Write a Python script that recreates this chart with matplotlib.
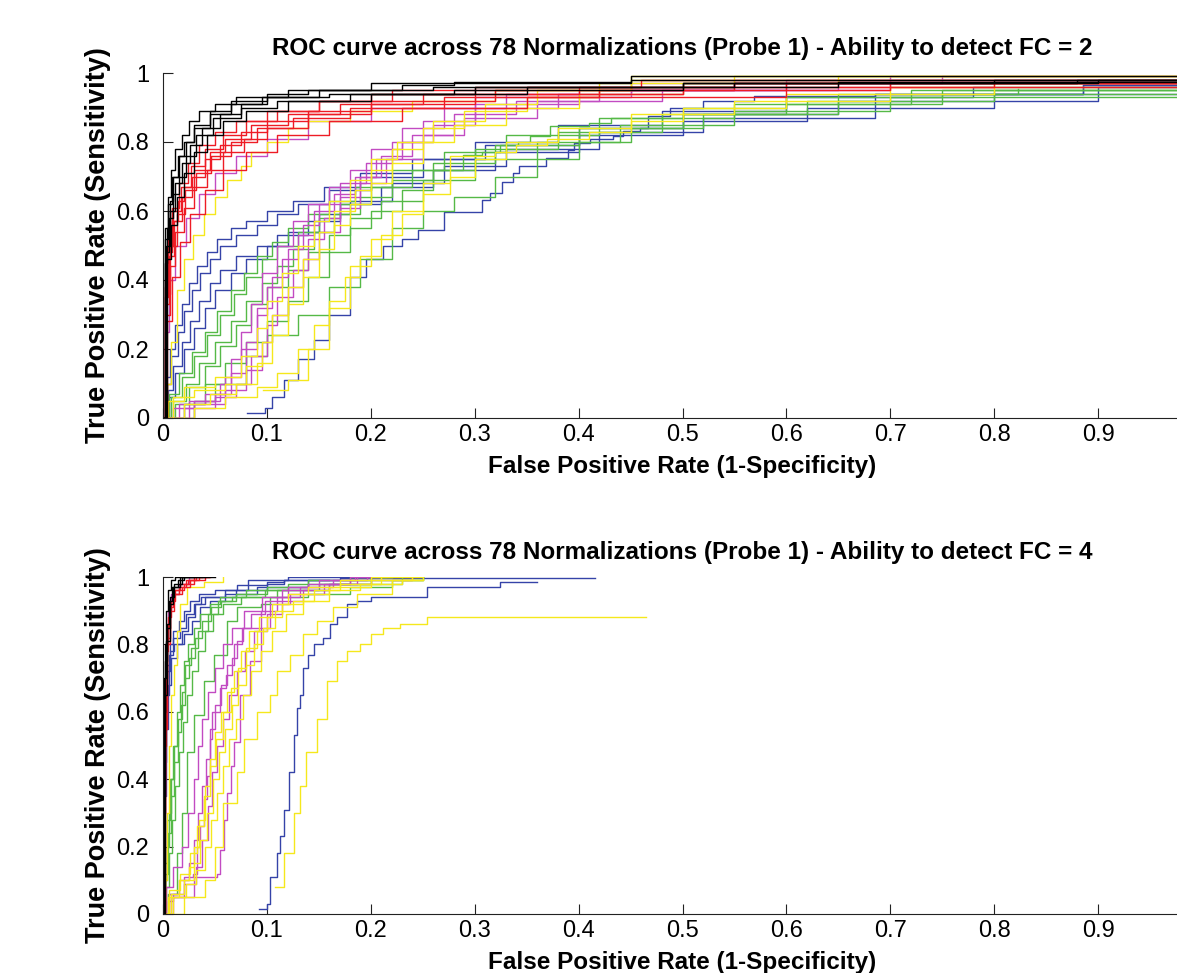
import matplotlib
matplotlib.use("Agg")
import matplotlib.pyplot as plt
from matplotlib.ticker import FuncFormatter

plt.rcParams['font.family'] = ['Liberation Sans', 'DejaVu Sans']

# ---- ROC curves, FC = 2 (each curve: list of (FPR, TPR) step corners) ----
top_black = [
    [(0, 0), (0.002, 0.45), (0.004, 0.55), (0.007, 0.63), (0.01, 0.7), (0.015, 0.76), (0.022, 0.8), (0.03, 0.85), (0.045, 0.89), (0.065, 0.92), (0.1, 0.94), (0.14, 0.95), (0.23, 0.965), (0.28, 0.975), (0.45, 0.98), (0.98, 0.99)],
    [(0, 0), (0.003, 0.48), (0.006, 0.58), (0.01, 0.65), (0.015, 0.7), (0.022, 0.76), (0.032, 0.82), (0.048, 0.87), (0.075, 0.9), (0.11, 0.92), (0.18, 0.94), (0.3, 0.96), (0.55, 0.97), (0.9, 0.98), (0.98, 0.98)],
    [(0, 0), (0.002, 0.52), (0.005, 0.62), (0.009, 0.7), (0.014, 0.76), (0.02, 0.8), (0.03, 0.84), (0.045, 0.88), (0.065, 0.91), (0.095, 0.93), (0.15, 0.95), (0.26, 0.96), (0.5, 0.97), (0.8, 0.98), (0.98, 0.99)],
    [(0, 0), (0.004, 0.46), (0.008, 0.56), (0.013, 0.64), (0.02, 0.71), (0.03, 0.77), (0.042, 0.82), (0.058, 0.86), (0.08, 0.89), (0.12, 0.92), (0.2, 0.94), (0.35, 0.96), (0.65, 0.975), (0.98, 0.985)],
    [(0, 0), (0.003, 0.5), (0.007, 0.6), (0.012, 0.68), (0.018, 0.74), (0.026, 0.79), (0.038, 0.84), (0.055, 0.88), (0.075, 0.91), (0.1, 0.93), (0.16, 0.94), (0.28, 0.95), (0.5, 0.97), (0.88, 0.98), (0.98, 0.98)],
    [(0, 0), (0.002, 0.55), (0.005, 0.64), (0.008, 0.72), (0.012, 0.78), (0.018, 0.82), (0.025, 0.86), (0.035, 0.89), (0.05, 0.91), (0.07, 0.93), (0.12, 0.95), (0.2, 0.97), (0.45, 0.99), (0.98, 0.99)],
]
top_red = [
    [(0, 0), (0.002, 0.35), (0.005, 0.48), (0.009, 0.57), (0.014, 0.63), (0.02, 0.67), (0.03, 0.72), (0.045, 0.77), (0.06, 0.81), (0.085, 0.85), (0.12, 0.88), (0.17, 0.91), (0.25, 0.94), (0.4, 0.96), (0.6, 0.97), (0.98, 0.98)],
    [(0, 0), (0.003, 0.3), (0.007, 0.44), (0.012, 0.54), (0.02, 0.61), (0.03, 0.67), (0.042, 0.72), (0.058, 0.77), (0.078, 0.81), (0.1, 0.84), (0.14, 0.88), (0.2, 0.91), (0.3, 0.94), (0.5, 0.96), (0.8, 0.97), (0.98, 0.99)],
    [(0, 0), (0.002, 0.4), (0.005, 0.52), (0.009, 0.61), (0.015, 0.68), (0.024, 0.74), (0.035, 0.79), (0.05, 0.83), (0.07, 0.86), (0.1, 0.89), (0.15, 0.92), (0.22, 0.95), (0.35, 0.96), (0.55, 0.97), (0.98, 0.98)],
    [(0, 0), (0.004, 0.28), (0.009, 0.41), (0.016, 0.51), (0.026, 0.59), (0.04, 0.66), (0.058, 0.72), (0.08, 0.77), (0.11, 0.82), (0.16, 0.86), (0.23, 0.9), (0.35, 0.93), (0.6, 0.96), (0.98, 0.98)],
    [(0, 0), (0.003, 0.33), (0.006, 0.47), (0.011, 0.57), (0.018, 0.64), (0.028, 0.7), (0.04, 0.75), (0.055, 0.79), (0.075, 0.83), (0.1, 0.86), (0.14, 0.89), (0.2, 0.92), (0.32, 0.95), (0.55, 0.97), (0.98, 0.99)],
    [(0, 0), (0.002, 0.38), (0.005, 0.5), (0.01, 0.6), (0.017, 0.67), (0.027, 0.73), (0.04, 0.78), (0.058, 0.82), (0.08, 0.86), (0.11, 0.89), (0.15, 0.92), (0.2, 0.94), (0.3, 0.96), (0.46, 0.98), (0.98, 0.99)],
    [(0, 0), (0.003, 0.36), (0.007, 0.5), (0.013, 0.59), (0.021, 0.66), (0.032, 0.71), (0.046, 0.76), (0.065, 0.8), (0.09, 0.84), (0.125, 0.87), (0.18, 0.9), (0.27, 0.93), (0.42, 0.95), (0.7, 0.97), (0.98, 0.98)],
]
top_magenta = [
    [(0, 0), (0.002, 0.25), (0.006, 0.4), (0.012, 0.5), (0.022, 0.58), (0.035, 0.65), (0.05, 0.71), (0.07, 0.76), (0.1, 0.81), (0.14, 0.86), (0.2, 0.9), (0.3, 0.93), (0.45, 0.95), (0.7, 0.98), (0.98, 0.99)],
    [(0, 0), (0.01, 0.03), (0.03, 0.05), (0.055, 0.1), (0.065, 0.17), (0.075, 0.25), (0.085, 0.33), (0.095, 0.42), (0.11, 0.5), (0.125, 0.57), (0.14, 0.62), (0.16, 0.67), (0.18, 0.72), (0.2, 0.78), (0.23, 0.84), (0.27, 0.9), (0.33, 0.94), (0.45, 0.97), (0.7, 0.99), (0.98, 0.99)],
    [(0, 0), (0.02, 0.03), (0.05, 0.06), (0.07, 0.1), (0.085, 0.18), (0.1, 0.27), (0.11, 0.35), (0.125, 0.43), (0.14, 0.52), (0.155, 0.58), (0.17, 0.64), (0.19, 0.7), (0.21, 0.76), (0.24, 0.82), (0.28, 0.88), (0.34, 0.92), (0.42, 0.95), (0.6, 0.98), (0.98, 0.99)],
    [(0, 0), (0.015, 0.04), (0.04, 0.07), (0.06, 0.12), (0.075, 0.2), (0.09, 0.3), (0.1, 0.38), (0.115, 0.46), (0.13, 0.53), (0.145, 0.6), (0.165, 0.65), (0.185, 0.7), (0.205, 0.75), (0.23, 0.8), (0.26, 0.85), (0.3, 0.9), (0.38, 0.94), (0.5, 0.97), (0.75, 0.99), (0.98, 0.99)],
    [(0, 0), (0.03, 0.04), (0.06, 0.08), (0.08, 0.14), (0.095, 0.22), (0.105, 0.3), (0.12, 0.38), (0.135, 0.46), (0.15, 0.54), (0.17, 0.61), (0.19, 0.68), (0.215, 0.75), (0.25, 0.82), (0.29, 0.87), (0.36, 0.92), (0.48, 0.95), (0.65, 0.98), (0.98, 0.99)],
    [(0, 0), (0.025, 0.05), (0.05, 0.07), (0.065, 0.13), (0.08, 0.22), (0.09, 0.32), (0.105, 0.41), (0.12, 0.49), (0.135, 0.56), (0.15, 0.62), (0.17, 0.68), (0.195, 0.74), (0.22, 0.8), (0.25, 0.86), (0.3, 0.91), (0.4, 0.95), (0.55, 0.98), (0.98, 1.0)],
]
top_yellow = [
    [(0, 0), (0.004, 0.1), (0.008, 0.22), (0.013, 0.37), (0.02, 0.46), (0.029, 0.53), (0.039, 0.59), (0.05, 0.64), (0.062, 0.69), (0.075, 0.73), (0.085, 0.77), (0.1, 0.8), (0.12, 0.84), (0.14, 0.86), (0.18, 0.89), (0.24, 0.92), (0.32, 0.95), (0.45, 0.99), (0.98, 1.0)],
    [(0, 0), (0.01, 0.06), (0.03, 0.08), (0.06, 0.1), (0.08, 0.15), (0.095, 0.22), (0.105, 0.3), (0.12, 0.38), (0.135, 0.46), (0.15, 0.54), (0.165, 0.6), (0.185, 0.66), (0.2, 0.72), (0.22, 0.78), (0.25, 0.84), (0.29, 0.89), (0.35, 0.93), (0.42, 0.97), (0.55, 0.99), (0.98, 1.0)],
    [(0, 0), (0.005, 0.05), (0.02, 0.09), (0.05, 0.12), (0.075, 0.18), (0.09, 0.26), (0.1, 0.34), (0.115, 0.42), (0.13, 0.5), (0.145, 0.57), (0.16, 0.63), (0.18, 0.69), (0.2, 0.75), (0.225, 0.8), (0.26, 0.86), (0.31, 0.91), (0.36, 0.95), (0.45, 0.98), (0.98, 0.99)],
    [(0, 0), (0.02, 0.04), (0.045, 0.07), (0.07, 0.1), (0.09, 0.16), (0.105, 0.24), (0.12, 0.33), (0.135, 0.41), (0.15, 0.49), (0.165, 0.56), (0.18, 0.62), (0.2, 0.68), (0.22, 0.74), (0.25, 0.8), (0.28, 0.85), (0.33, 0.9), (0.4, 0.94), (0.5, 0.97), (0.65, 0.99), (0.98, 0.99)],
    [(0, 0), (0.03, 0.03), (0.06, 0.06), (0.09, 0.09), (0.11, 0.13), (0.13, 0.2), (0.145, 0.27), (0.16, 0.34), (0.175, 0.41), (0.19, 0.47), (0.21, 0.53), (0.23, 0.59), (0.25, 0.65), (0.276, 0.7), (0.3, 0.75), (0.33, 0.8), (0.38, 0.84), (0.45, 0.88), (0.55, 0.92), (0.7, 0.96), (0.98, 0.98)],
    [(0.096, 0.08), (0.12, 0.11), (0.14, 0.2), (0.16, 0.32), (0.18, 0.44), (0.2, 0.52), (0.22, 0.6), (0.25, 0.68), (0.276, 0.76), (0.32, 0.77), (0.34, 0.79), (0.37, 0.81), (0.41, 0.83), (0.45, 0.86), (0.5, 0.9), (0.6, 0.94), (0.8, 0.97), (0.98, 0.99)],
]
top_green = [
    [(0, 0), (0.008, 0.06), (0.018, 0.12), (0.03, 0.18), (0.042, 0.24), (0.055, 0.3), (0.068, 0.36), (0.08, 0.41), (0.095, 0.46), (0.11, 0.5), (0.13, 0.54), (0.15, 0.58), (0.17, 0.62), (0.2, 0.67), (0.24, 0.72), (0.3, 0.78), (0.38, 0.83), (0.48, 0.88), (0.62, 0.92), (0.8, 0.95), (0.98, 0.97)],
    [(0, 0), (0.01, 0.05), (0.022, 0.1), (0.035, 0.16), (0.05, 0.22), (0.065, 0.28), (0.08, 0.34), (0.095, 0.39), (0.11, 0.44), (0.125, 0.49), (0.145, 0.54), (0.165, 0.59), (0.19, 0.64), (0.22, 0.69), (0.26, 0.74), (0.32, 0.79), (0.4, 0.84), (0.5, 0.88), (0.65, 0.94), (0.823, 0.953)],
    [(0, 0), (0.012, 0.04), (0.025, 0.09), (0.04, 0.15), (0.055, 0.21), (0.07, 0.27), (0.085, 0.33), (0.1, 0.38), (0.12, 0.43), (0.14, 0.48), (0.16, 0.53), (0.18, 0.58), (0.21, 0.63), (0.25, 0.69), (0.3, 0.75), (0.36, 0.8), (0.44, 0.85), (0.55, 0.89), (0.7, 0.93), (0.98, 0.97)],
    [(0, 0), (0.02, 0.04), (0.04, 0.1), (0.06, 0.16), (0.08, 0.22), (0.1, 0.28), (0.12, 0.34), (0.14, 0.41), (0.16, 0.48), (0.18, 0.55), (0.2, 0.6), (0.23, 0.66), (0.26, 0.72), (0.289, 0.762), (0.307, 0.772), (0.324, 0.79), (0.342, 0.8), (0.353, 0.817), (0.372, 0.846), (0.41, 0.856), (0.431, 0.87), (0.5, 0.9), (0.6, 0.93), (0.75, 0.95), (0.98, 0.975)],
    [(0, 0), (0.006, 0.07), (0.015, 0.13), (0.028, 0.19), (0.04, 0.25), (0.052, 0.31), (0.065, 0.37), (0.078, 0.42), (0.09, 0.47), (0.105, 0.51), (0.12, 0.55), (0.14, 0.59), (0.16, 0.63), (0.185, 0.67), (0.22, 0.72), (0.27, 0.77), (0.33, 0.82), (0.42, 0.87), (0.55, 0.91), (0.72, 0.95), (0.98, 0.98)],
    [(0, 0), (0.03, 0.05), (0.05, 0.1), (0.08, 0.18), (0.1, 0.24), (0.13, 0.3), (0.16, 0.38), (0.19, 0.46), (0.22, 0.55), (0.25, 0.6), (0.28, 0.64), (0.32, 0.7), (0.36, 0.75), (0.4, 0.8), (0.45, 0.84), (0.52, 0.88), (0.6, 0.91), (0.75, 0.94), (0.98, 0.97)],
]
top_blue = [
    [(0, 0), (0.004, 0.1), (0.008, 0.18), (0.014, 0.25), (0.02, 0.31), (0.028, 0.37), (0.036, 0.42), (0.045, 0.46), (0.055, 0.5), (0.07, 0.53), (0.09, 0.56), (0.11, 0.59), (0.13, 0.62), (0.16, 0.66), (0.2, 0.7), (0.25, 0.75), (0.31, 0.79), (0.4, 0.84), (0.5, 0.88), (0.65, 0.92), (0.9, 0.96), (0.98, 0.98)],
    [(0, 0), (0.005, 0.08), (0.01, 0.15), (0.018, 0.22), (0.026, 0.28), (0.035, 0.34), (0.045, 0.39), (0.055, 0.43), (0.07, 0.47), (0.09, 0.5), (0.11, 0.53), (0.14, 0.57), (0.17, 0.62), (0.21, 0.67), (0.26, 0.72), (0.32, 0.77), (0.4, 0.82), (0.5, 0.86), (0.62, 0.9), (0.8, 0.94), (0.98, 0.97)],
    [(0, 0), (0.003, 0.12), (0.007, 0.2), (0.012, 0.27), (0.018, 0.33), (0.025, 0.39), (0.033, 0.44), (0.042, 0.48), (0.052, 0.52), (0.065, 0.55), (0.08, 0.57), (0.1, 0.6), (0.125, 0.63), (0.155, 0.67), (0.19, 0.71), (0.24, 0.75), (0.3, 0.8), (0.38, 0.85), (0.48, 0.89), (0.6, 0.93), (0.78, 0.96), (0.98, 0.99)],
    [(0, 0), (0.006, 0.06), (0.012, 0.13), (0.02, 0.2), (0.03, 0.26), (0.04, 0.32), (0.05, 0.37), (0.065, 0.42), (0.08, 0.46), (0.1, 0.5), (0.12, 0.54), (0.15, 0.59), (0.18, 0.63), (0.22, 0.68), (0.27, 0.73), (0.33, 0.78), (0.42, 0.83), (0.52, 0.87), (0.685, 0.94), (0.885, 0.965), (0.98, 0.965)],
    [(0.081, 0.014), (0.098, 0.03), (0.105, 0.06), (0.116, 0.11), (0.13, 0.17), (0.145, 0.226), (0.16, 0.3), (0.18, 0.41), (0.195, 0.46), (0.212, 0.5), (0.23, 0.52), (0.245, 0.545), (0.27, 0.598), (0.307, 0.632), (0.315, 0.653), (0.326, 0.685), (0.337, 0.71), (0.343, 0.73), (0.369, 0.753), (0.39, 0.777), (0.396, 0.796), (0.411, 0.808), (0.433, 0.818), (0.443, 0.832), (0.459, 0.842), (0.467, 0.874), (0.488, 0.898), (0.52, 0.918), (0.569, 0.932), (0.685, 0.94), (0.885, 0.965), (0.98, 0.98)],
]

# ---- ROC curves, FC = 4 ----
bot_black = [
    [(0, 0), (0.001, 0.6), (0.002, 0.8), (0.003, 0.9), (0.005, 0.96), (0.008, 0.99), (0.012, 1.0), (0.02, 1.0)],
    [(0, 0), (0.001, 0.5), (0.002, 0.75), (0.004, 0.86), (0.006, 0.93), (0.009, 0.97), (0.014, 0.99), (0.02, 1.0), (0.04, 1.0)],
    [(0, 0), (0.001, 0.7), (0.003, 0.81), (0.006, 0.81), (0.007, 0.92), (0.01, 0.97), (0.016, 1.0), (0.03, 1.0)],
    [(0, 0), (0.002, 0.65), (0.004, 0.85), (0.007, 0.94), (0.011, 0.98), (0.018, 1.0), (0.05, 1.0)],
]
bot_red = [
    [(0, 0), (0.001, 0.4), (0.002, 0.7), (0.004, 0.85), (0.006, 0.92), (0.01, 0.96), (0.016, 0.98), (0.024, 0.99), (0.035, 1.0), (0.045, 1.0)],
    [(0, 0), (0.001, 0.5), (0.003, 0.78), (0.005, 0.88), (0.008, 0.93), (0.012, 0.96), (0.02, 0.98), (0.03, 0.99), (0.04, 1.0), (0.044, 1.0)],
    [(0, 0), (0.001, 0.3), (0.002, 0.6), (0.004, 0.8), (0.007, 0.9), (0.011, 0.95), (0.018, 0.97), (0.026, 0.99), (0.032, 1.0)],
    [(0, 0), (0.002, 0.55), (0.004, 0.82), (0.007, 0.91), (0.01, 0.95), (0.015, 0.97), (0.022, 0.99), (0.03, 1.0), (0.038, 1.0)],
]
bot_magenta = [
    [(0, 0), (0.005, 0.04), (0.01, 0.06), (0.02, 0.11), (0.029, 0.12), (0.033, 0.2), (0.036, 0.26), (0.039, 0.34), (0.042, 0.41), (0.045, 0.52), (0.047, 0.6), (0.055, 0.67), (0.061, 0.71), (0.066, 0.76), (0.071, 0.81), (0.077, 0.85), (0.094, 0.9), (0.11, 0.94), (0.132, 0.97), (0.164, 0.99), (0.196, 1.0), (0.21, 1.0)],
    [(0, 0), (0.01, 0.05), (0.03, 0.11), (0.052, 0.12), (0.055, 0.19), (0.059, 0.28), (0.062, 0.36), (0.065, 0.44), (0.068, 0.51), (0.074, 0.65), (0.084, 0.75), (0.094, 0.85), (0.103, 0.92), (0.122, 0.95), (0.155, 0.98), (0.187, 1.0), (0.2, 1.0)],
    [(0, 0), (0.006, 0.06), (0.015, 0.1), (0.025, 0.15), (0.03, 0.22), (0.034, 0.3), (0.038, 0.38), (0.041, 0.46), (0.045, 0.55), (0.05, 0.62), (0.056, 0.68), (0.062, 0.74), (0.068, 0.8), (0.076, 0.85), (0.085, 0.89), (0.098, 0.93), (0.115, 0.96), (0.14, 0.98), (0.18, 1.0), (0.2, 1.0)],
    [(0, 0), (0.008, 0.05), (0.02, 0.09), (0.032, 0.14), (0.038, 0.22), (0.043, 0.32), (0.047, 0.42), (0.052, 0.5), (0.058, 0.58), (0.064, 0.65), (0.071, 0.72), (0.079, 0.78), (0.088, 0.84), (0.1, 0.89), (0.115, 0.93), (0.135, 0.96), (0.16, 0.98), (0.2, 0.99), (0.24, 1.0)],
    [(0, 0), (0.003, 0.08), (0.01, 0.14), (0.018, 0.2), (0.024, 0.3), (0.03, 0.4), (0.034, 0.5), (0.038, 0.58), (0.043, 0.66), (0.05, 0.73), (0.058, 0.8), (0.066, 0.85), (0.078, 0.9), (0.095, 0.94), (0.12, 0.97), (0.15, 0.99), (0.185, 1.0)],
    [(0, 0), (0.001, 0.3), (0.002, 0.6), (0.003, 0.8), (0.005, 0.9), (0.008, 0.95), (0.015, 0.98), (0.025, 1.0), (0.03, 1.0)],
]
bot_yellow = [
    [(0, 0), (0.002, 0.1), (0.004, 0.3), (0.006, 0.5), (0.008, 0.65), (0.011, 0.74), (0.013, 0.84), (0.016, 0.92), (0.023, 0.97), (0.039, 0.985), (0.058, 1.0)],
    [(0, 0), (0.005, 0.05), (0.015, 0.1), (0.025, 0.14), (0.03, 0.2), (0.035, 0.28), (0.04, 0.38), (0.045, 0.46), (0.05, 0.54), (0.056, 0.6), (0.062, 0.66), (0.068, 0.72), (0.075, 0.78), (0.083, 0.84), (0.092, 0.88), (0.105, 0.92), (0.12, 0.95), (0.14, 0.97), (0.17, 0.99), (0.2, 1.0), (0.22, 1.0)],
    [(0, 0), (0.008, 0.06), (0.02, 0.1), (0.03, 0.15), (0.036, 0.22), (0.042, 0.3), (0.048, 0.4), (0.054, 0.48), (0.06, 0.55), (0.066, 0.62), (0.072, 0.68), (0.08, 0.74), (0.088, 0.8), (0.096, 0.85), (0.108, 0.9), (0.125, 0.93), (0.145, 0.96), (0.17, 0.98), (0.21, 1.0), (0.25, 1.0)],
    [(0, 0), (0.01, 0.05), (0.022, 0.09), (0.032, 0.13), (0.04, 0.2), (0.046, 0.28), (0.052, 0.36), (0.058, 0.44), (0.064, 0.52), (0.07, 0.58), (0.077, 0.65), (0.085, 0.72), (0.094, 0.78), (0.105, 0.84), (0.118, 0.89), (0.135, 0.93), (0.16, 0.96), (0.19, 0.98), (0.23, 0.99), (0.25, 1.0)],
    [(0, 0), (0.006, 0.07), (0.016, 0.12), (0.026, 0.18), (0.033, 0.26), (0.039, 0.35), (0.045, 0.44), (0.051, 0.52), (0.058, 0.6), (0.065, 0.67), (0.072, 0.73), (0.08, 0.79), (0.09, 0.84), (0.1, 0.88), (0.115, 0.92), (0.135, 0.95), (0.16, 0.97), (0.2, 0.99), (0.24, 1.0)],
    [(0, 0), (0.02, 0.05), (0.04, 0.1), (0.05, 0.2), (0.058, 0.33), (0.071, 0.42), (0.078, 0.52), (0.09, 0.6), (0.103, 0.65), (0.11, 0.72), (0.122, 0.77), (0.135, 0.83), (0.148, 0.87), (0.164, 0.91), (0.187, 0.95), (0.22, 0.99), (0.25, 0.99)],
    [(0.108, 0.08), (0.116, 0.18), (0.126, 0.3), (0.132, 0.38), (0.138, 0.48), (0.148, 0.58), (0.158, 0.69), (0.167, 0.75), (0.177, 0.78), (0.19, 0.8), (0.2, 0.83), (0.212, 0.85), (0.228, 0.86), (0.254, 0.88), (0.465, 0.88)],
]
bot_green = [
    [(0, 0), (0.002, 0.1), (0.004, 0.2), (0.006, 0.3), (0.008, 0.4), (0.011, 0.5), (0.014, 0.58), (0.018, 0.66), (0.021, 0.74), (0.027, 0.79), (0.034, 0.84), (0.043, 0.89), (0.053, 0.93), (0.066, 0.94), (0.098, 0.96), (0.15, 0.98), (0.2, 0.99), (0.25, 1.0)],
    [(0, 0), (0.003, 0.08), (0.006, 0.18), (0.009, 0.28), (0.012, 0.38), (0.015, 0.48), (0.019, 0.57), (0.023, 0.65), (0.028, 0.72), (0.034, 0.78), (0.04, 0.84), (0.048, 0.89), (0.058, 0.92), (0.075, 0.94), (0.11, 0.96), (0.16, 0.98), (0.23, 1.0)],
    [(0, 0), (0.002, 0.12), (0.005, 0.24), (0.008, 0.35), (0.011, 0.45), (0.014, 0.54), (0.017, 0.62), (0.021, 0.7), (0.025, 0.76), (0.031, 0.82), (0.038, 0.87), (0.046, 0.91), (0.056, 0.93), (0.07, 0.95), (0.1, 0.97), (0.14, 0.99), (0.2, 1.0), (0.215, 1.0)],
    [(0, 0), (0.005, 0.06), (0.013, 0.18), (0.018, 0.3), (0.023, 0.48), (0.03, 0.59), (0.039, 0.69), (0.049, 0.77), (0.062, 0.87), (0.071, 0.91), (0.094, 0.92), (0.103, 0.94), (0.14, 0.95), (0.18, 0.97), (0.22, 0.99), (0.25, 1.0)],
    [(0, 0), (0.002, 0.15), (0.004, 0.28), (0.007, 0.4), (0.01, 0.5), (0.013, 0.6), (0.016, 0.68), (0.02, 0.75), (0.024, 0.8), (0.03, 0.85), (0.036, 0.89), (0.045, 0.92), (0.055, 0.94), (0.08, 0.96), (0.12, 0.98), (0.18, 1.0), (0.22, 1.0)],
]
bot_blue = [
    [(0, 0), (0.0005, 0.3), (0.001, 0.5), (0.002, 0.65), (0.004, 0.74), (0.007, 0.78), (0.011, 0.8), (0.018, 0.84), (0.024, 0.88), (0.031, 0.92), (0.037, 0.94), (0.05, 0.94), (0.07, 0.96), (0.082, 0.99), (0.12, 1.0), (0.2, 1.0)],
    [(0, 0), (0.001, 0.4), (0.002, 0.6), (0.004, 0.72), (0.007, 0.8), (0.01, 0.84), (0.015, 0.87), (0.02, 0.9), (0.026, 0.93), (0.035, 0.95), (0.05, 0.96), (0.071, 0.975), (0.1, 0.985), (0.116, 0.99), (0.16, 0.99)],
    [(0, 0), (0.001, 0.35), (0.003, 0.55), (0.005, 0.68), (0.008, 0.76), (0.013, 0.8), (0.02, 0.83), (0.028, 0.87), (0.036, 0.91), (0.045, 0.93), (0.06, 0.95), (0.09, 0.97), (0.14, 0.99), (0.2, 1.0), (0.25, 1.0)],
    [(0, 0), (0.001, 0.45), (0.003, 0.65), (0.006, 0.77), (0.01, 0.82), (0.016, 0.85), (0.022, 0.89), (0.03, 0.92), (0.04, 0.94), (0.06, 0.96), (0.1, 0.98), (0.116, 0.99), (0.17, 0.997), (0.416, 0.997)],
    [(0.092, 0.015), (0.1, 0.03), (0.103, 0.11), (0.11, 0.18), (0.113, 0.23), (0.116, 0.31), (0.121, 0.42), (0.126, 0.53), (0.129, 0.61), (0.132, 0.65), (0.135, 0.73), (0.14, 0.77), (0.145, 0.8), (0.154, 0.82), (0.161, 0.86), (0.167, 0.88), (0.177, 0.92), (0.187, 0.93), (0.2, 0.94), (0.254, 0.97), (0.324, 0.985), (0.36, 0.985)],
]

colors = {
    'blue': '#3543a8',
    'green': '#55b947',
    'magenta': '#c24bc2',
    'yellow': '#f5e81c',
    'red': '#ee1c25',
    'black': '#000000',
}

panels = [
    ('ROC curve across 78 Normalizations (Probe 1) - Ability to detect FC = 2',
     [('blue', top_blue), ('green', top_green), ('magenta', top_magenta),
      ('yellow', top_yellow), ('red', top_red), ('black', top_black)]),
    ('ROC curve across 78 Normalizations (Probe 1) - Ability to detect FC = 4',
     [('blue', bot_blue), ('green', bot_green), ('magenta', bot_magenta),
      ('yellow', bot_yellow), ('red', bot_red), ('black', bot_black)]),
]

W, H = 1177, 973
fig = plt.figure(figsize=(W / 100, H / 100), dpi=100)
ax_top = fig.add_axes([163 / W, 1 - 418 / H, 1039 / W, 345 / H])
ax_bot = fig.add_axes([163 / W, 1 - 914 / H, 1039 / W, 337 / H])

fmt = FuncFormatter(lambda v, p: '%g' % round(v, 2))
for ax, (title, groups) in zip([ax_top, ax_bot], panels):
    for cname, curves in groups:
        for curve in curves:
            xs, ys = zip(*curve)
            ax.step(xs, ys, where='post', color=colors[cname], lw=1.0)
    ax.set_xlim(0, 1)
    ax.set_ylim(0, 1)
    ax.set_xticks([0, 0.1, 0.2, 0.3, 0.4, 0.5, 0.6, 0.7, 0.8, 0.9])
    ax.set_yticks([0, 0.2, 0.4, 0.6, 0.8, 1.0])
    ax.xaxis.set_major_formatter(fmt)
    ax.yaxis.set_major_formatter(fmt)
    ax.spines['top'].set_visible(False)
    ax.spines['right'].set_visible(False)
    for s in ('left', 'bottom'):
        ax.spines[s].set_linewidth(0.8)
        ax.spines[s].set_color('#222222')
    ax.tick_params(direction='in', length=7, width=0.8, labelsize=17, colors='#222222', labelcolor='black')
    ax.tick_params(axis='x', pad=4)
    ax.tick_params(axis='y', pad=10)
    ax.set_title(title, fontsize=17.5, fontweight='bold', pad=13)
    ax.set_xlabel('False Positive Rate (1-Specificity)', fontsize=17.5, fontweight='bold', labelpad=7)
    ax.set_ylabel('True Positive Rate (Sensitivity)', fontsize=19.5, fontweight='bold', labelpad=4)

fig.savefig('out.png', dpi=100)
